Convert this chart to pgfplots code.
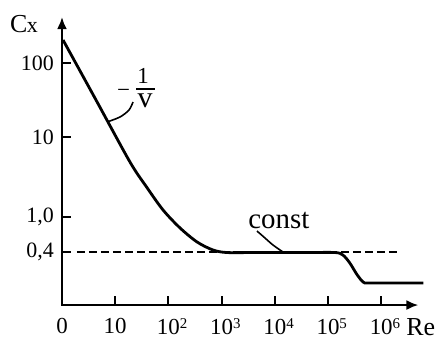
\documentclass[border=0pt]{standalone}
\usepackage{pgfplots}
\pgfplotsset{compat=1.18}
\usepackage{fontspec}
\setmainfont{Liberation Serif}
\usetikzlibrary{arrows.meta}
\newcommand{\sps}[1]{\rlap{\raisebox{6bp}{\fontsize{15}{15}\selectfont #1}}}
\begin{document}
\begin{tikzpicture}
\begin{axis}[
  x=53.2bp, y=1bp,
  xmin=0, xmax=6.7, ymin=0, ymax=288,
  axis lines=left,
  axis line style={line width=2.8bp, line cap=rect, -{Latex[length=12bp,width=10bp]}},
  clip=false,
  tick align=inside,
  major tick length=9bp,
  tick style={line width=2bp, black},
  xtick={0,1,2,3,4,5,6},
  xticklabels={0,10,10\sps{2},10\sps{3},10\sps{4},10\sps{5},10\sps{6}},
  ytick={242,168,88,53},
  yticklabels={100,10,{1,0},{0,4}},
  xticklabel style={anchor=north, inner sep=0pt, yshift=-13bp, font=\fontsize{23}{25}\selectfont},
  yticklabel style={anchor=east, inner sep=0pt, xshift=-8bp, font=\fontsize{22}{24}\selectfont},
]
% dashed constant level
\addplot[black, line width=1.8bp, dash pattern=on 8bp off 4bp] coordinates {(0.28,53) (6.35,53)};
% main curve
\addplot[black, line width=2.8bp, smooth, tension=0.5] coordinates {
  (0.02,265) (0.65,204) (1.278,143) (1.59,118) (1.90,95) (2.22,77) (2.54,63) (2.84,55) (3.10,52.5)
  (3.6,52.5) (4.6,52.5) (5.13,52.5) (5.28,50) (5.41,42) (5.55,30) (5.66,23) (5.75,22) (6.2,22) (6.79,22)
};
% connectors
\addplot[black, line width=1.6bp, smooth] coordinates {(0.846,183) (1.09,188) (1.26,195) (1.335,203)};
\addplot[black, line width=1.6bp, smooth] coordinates {(3.665,74) (3.816,67) (3.966,60) (4.154,53)};
% labels
\node[anchor=base west, inner sep=0pt, font=\fontsize{26}{28}\selectfont] at (axis cs:-0.977,273) {C\kern-0.5bp{\fontsize{22}{22}\selectfont x}};
\node[anchor=base west, inner sep=0pt, font=\fontsize{26}{28}\selectfont] at (axis cs:6.47,-30) {Re};
\node[anchor=base west, inner sep=0pt, font=\fontsize{29}{31}\selectfont] at (axis cs:3.50,77) {const};
\node[inner sep=0pt, font=\fontsize{23}{25}\selectfont] at (axis cs:1.156,212) {−};
\node[anchor=base, inner sep=0pt, font=\fontsize{23}{25}\selectfont] at (axis cs:1.523,222) {1};
\node[inner sep=0pt] at (axis cs:1.57,216) {\rule{19bp}{1.8bp}};
\node[anchor=base, inner sep=0pt, font=\fontsize{30}{32}\selectfont] at (axis cs:1.56,198) {v};
\coordinate (bl) at (axis cs:-1.165,-35);
\coordinate (tr) at (axis cs:7.086,305);
\end{axis}
\pgfresetboundingbox
\path (bl) rectangle (tr);
\end{tikzpicture}
\end{document}
